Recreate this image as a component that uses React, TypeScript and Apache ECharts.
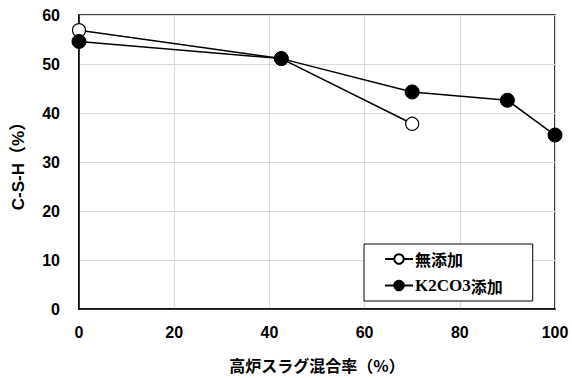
import React, { useEffect, useRef } from "react";
import * as echarts from "echarts";

const seriesNames = ["無添加", "K2CO3添加"];
const xNone = [0, 42.5, 70];
const yNone = [56.9, 51.1, 37.8];
const xK2 = [0, 42.5, 70, 90, 100];
const yK2 = [54.6, 51.1, 44.3, 42.6, 35.5];
const xAxisName = "高炉スラグ混合率（%）";
const yAxisName = "C-S-H（%）";

const FONT = "'Liberation Sans', 'Noto Sans CJK JP', sans-serif";
const CJK = "'Noto Sans CJK JP', sans-serif";

export default function App() {
  const ref = useRef<HTMLDivElement>(null);
  useEffect(() => {
    if (!ref.current) return;
    const chart = echarts.init(ref.current, undefined, { renderer: "svg" });
    const pair = (xs: number[], ys: number[]) => xs.map((x, i) => [x, ys[i]]);
    chart.setOption({
      animation: false,
      backgroundColor: "#fff",
      grid: {
        left: 79,
        right: 17,
        top: 15,
        bottom: 63,
        show: true,
        borderColor: "#000",
        borderWidth: 1.5,
      },
      xAxis: {
        type: "value",
        min: 0,
        max: 100,
        interval: 20,
        name: xAxisName,
        nameLocation: "middle",
        nameGap: 48,
        nameTextStyle: { fontSize: 16, fontWeight: "bold", color: "#000", fontFamily: CJK },
        axisLine: { show: true, lineStyle: { color: "#000", width: 1.5 } },
        axisTick: { show: false },
        axisLabel: { margin: 15, fontSize: 16, fontWeight: "bold", color: "#000", fontFamily: FONT },
        splitLine: { show: true, lineStyle: { color: "#d9d9d9", width: 1 } },
      },
      yAxis: {
        type: "value",
        min: 0,
        max: 60,
        interval: 10,
        name: yAxisName,
        nameLocation: "middle",
        nameGap: 52,
        nameRotate: 90,
        nameTextStyle: { fontSize: 17, fontWeight: "bold", color: "#000", fontFamily: FONT },
        axisLine: { show: true, lineStyle: { color: "#000", width: 1.5 } },
        axisTick: { show: false },
        axisLabel: { margin: 19, fontSize: 16, fontWeight: "bold", color: "#000", fontFamily: FONT },
        splitLine: { show: true, lineStyle: { color: "#d9d9d9", width: 1 } },
      },
      legend: {
        orient: "vertical",
        left: 364,
        top: 244,
        width: 150,
        padding: [7, 30, 7, 20],
        itemGap: 10,
        itemWidth: 28,
        itemHeight: 12,
        backgroundColor: "#fff",
        borderColor: "#000",
        borderWidth: 1,
        borderRadius: 0,
        data: seriesNames,
        formatter: (name: string) =>
          name === "K2CO3添加" ? "{s|K2CO3}{j|添加}" : "{j|" + name + "}",
        textStyle: {
          color: "#000",
          fontSize: 16,
          fontWeight: "bold",
          padding: [0, 0, 0, -3],
          rich: {
            s: { fontFamily: "'Liberation Serif', serif", fontSize: 17, fontWeight: "bold", color: "#000" },
            j: { fontFamily: CJK, fontSize: 16, fontWeight: "bold", color: "#000" },
          },
        },
      },
      series: [
        {
          name: seriesNames[0],
          type: "line",
          data: pair(xNone, yNone),
          symbol: "circle",
          symbolSize: 13,
          z: 3,
          lineStyle: { color: "#000", width: 1.5 },
          itemStyle: { color: "#fff", borderColor: "#000", borderWidth: 1.2 },
        },
        {
          name: seriesNames[1],
          type: "line",
          data: pair(xK2, yK2),
          symbol: "circle",
          symbolSize: 14,
          z: 4,
          lineStyle: { color: "#000", width: 1.5 },
          itemStyle: { color: "#000", borderColor: "#000", borderWidth: 1 },
        },
      ],
    });
    return () => chart.dispose();
  }, []);
  return (
    <div
      ref={ref}
      style={{ position: "fixed", left: 0, top: 0, width: 572, height: 378, background: "#fff" }}
    />
  );
}
